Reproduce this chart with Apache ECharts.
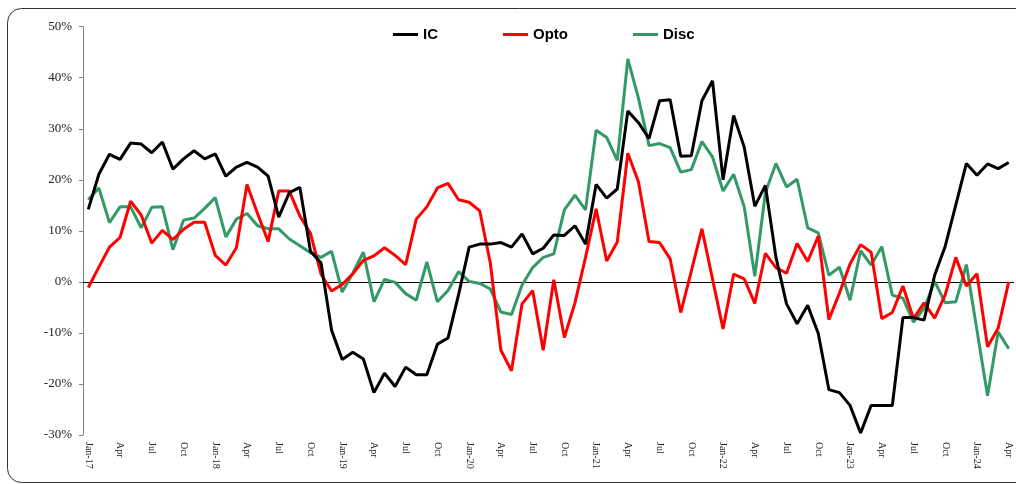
<!DOCTYPE html>
<html>
<head>
<meta charset="utf-8">
<script src="https://cdn.jsdelivr.net/npm/echarts@6/dist/echarts.min.js"></script>
<style>
html,body{margin:0;padding:0;background:#fff;}
#chart{width:1016px;height:484px;}
</style>
</head>
<body>
<div id="chart"></div>
<script>
const categories = [
"Jan-17","Feb-17","Mar-17","Apr-17","May-17","Jun-17","Jul-17","Aug-17","Sep-17","Oct-17","Nov-17","Dec-17",
"Jan-18","Feb-18","Mar-18","Apr-18","May-18","Jun-18","Jul-18","Aug-18","Sep-18","Oct-18","Nov-18","Dec-18",
"Jan-19","Feb-19","Mar-19","Apr-19","May-19","Jun-19","Jul-19","Aug-19","Sep-19","Oct-19","Nov-19","Dec-19",
"Jan-20","Feb-20","Mar-20","Apr-20","May-20","Jun-20","Jul-20","Aug-20","Sep-20","Oct-20","Nov-20","Dec-20",
"Jan-21","Feb-21","Mar-21","Apr-21","May-21","Jun-21","Jul-21","Aug-21","Sep-21","Oct-21","Nov-21","Dec-21",
"Jan-22","Feb-22","Mar-22","Apr-22","May-22","Jun-22","Jul-22","Aug-22","Sep-22","Oct-22","Nov-22","Dec-22",
"Jan-23","Feb-23","Mar-23","Apr-23","May-23","Jun-23","Jul-23","Aug-23","Sep-23","Oct-23","Nov-23","Dec-23",
"Jan-24","Feb-24","Mar-24","Apr-24"
];

const icValues = [
14.2,21.1,25.0,24.0,27.2,27.0,25.3,27.4,22.1,24.1,25.7,24.1,
25.1,20.7,22.5,23.4,22.5,20.7,12.7,17.5,18.5,6.0,3.7,-9.5,
-15.2,-13.8,-15.1,-21.7,-17.9,-20.5,-16.7,-18.2,-18.2,-12.2,-11.0,-2.5,
6.8,7.4,7.4,7.7,6.8,9.4,5.5,6.6,9.2,9.1,11.0,7.4,
19.1,16.4,18.2,33.5,31.2,28.1,35.5,35.7,24.6,24.7,35.5,39.4,
20.0,32.6,26.4,14.8,18.9,4.8,-4.3,-8.2,-4.6,-10.1,-21.1,-21.7,
-24.2,-29.6,-24.2,-24.2,-24.2,-7.0,-7.0,-7.5,1.3,7.0,15.1,23.2,
20.9,23.1,22.2,23.4
];

const optoValues = [
-1.1,2.9,6.8,8.7,15.8,13.1,7.6,10.1,8.3,10.3,11.7,11.7,
5.2,3.3,6.7,19.1,13.4,7.9,17.8,17.8,12.9,9.5,1.5,-1.8,
-0.5,1.6,4.2,5.1,6.7,5.2,3.4,12.3,14.7,18.4,19.3,16.1,
15.6,13.9,3.7,-13.4,-17.4,-4.3,-1.7,-13.4,0.4,-10.9,-4.1,4.8,
14.3,4.1,7.8,25.2,19.6,7.9,7.7,4.5,-6.0,2.1,10.4,0.6,
-9.2,1.5,0.6,-4.2,5.6,2.8,1.7,7.5,4.0,9.0,-7.4,-2.2,
3.5,7.3,5.8,-7.2,-6.0,-0.8,-7.2,-4.1,-7.1,-2.5,4.8,-0.8,
1.6,-12.7,-9.1,0.0
];

const discValues = [
16.1,18.4,11.6,14.7,14.7,10.6,14.6,14.7,6.3,12.1,12.5,14.4,
16.5,8.8,12.3,13.4,11.0,10.4,10.4,8.4,7.1,5.7,4.8,6.0,
-2.0,1.7,5.8,-3.9,0.5,-0.1,-2.3,-3.6,3.9,-3.9,-1.7,2.0,
0.1,-0.3,-1.4,-5.9,-6.4,-0.6,2.8,4.8,5.5,14.1,17.0,14.1,
29.7,28.3,23.8,43.7,36.0,26.7,27.1,26.3,21.5,22.0,27.5,24.5,
17.8,21.1,14.7,1.1,17.5,23.2,18.6,20.1,10.6,9.6,1.3,2.9,
-3.6,6.1,3.3,6.9,-2.6,-3.2,-7.9,-5.2,0.1,-4.1,-3.9,3.4,
-9.5,-22.3,-9.8,-13.1
];

const seriesNames = ["IC","Opto","Disc"];
const yTicks = {min:-30, max:50, step:10};

const chart = echarts.init(document.getElementById('chart'), null, {renderer:'canvas'});

function mkLine(name, data, color, extra) {
  return Object.assign({
    name: name,
    type: 'line',
    data: data,
    symbol: 'none',
    showSymbol: false,
    smooth: false,
    lineStyle: {color: color, width: 3},
    itemStyle: {color: color},
    animation: false,
    z: 3
  }, extra || {});
}

const option = {
  backgroundColor: '#ffffff',
  animation: false,
  graphic: [{
    type: 'rect',
    shape: {x: 7.5, y: 8.5, width: 1030, height: 474, r: 14},
    style: {fill: 'none', stroke: '#333333', lineWidth: 1},
    silent: true,
    z: 0
  }],
  legend: {
    data: seriesNames,
    left: 388,
    top: 22,
    icon: 'rect',
    itemWidth: 25,
    itemHeight: 3,
    itemGap: 65,
    textStyle: {fontFamily: 'Liberation Sans, Arial, sans-serif', fontWeight: 'bold', fontSize: 15, color: '#000'}
  },
  grid: {left: 83, right: 2, top: 26.7, bottom: 49, containLabel: false},
  xAxis: {
    type: 'category',
    data: categories,
    boundaryGap: true,
    axisLine: {show: false},
    axisTick: {show: false},
    splitLine: {show: false},
    axisLabel: {
      interval: 2,
      rotate: -90,
      margin: 7,
      fontFamily: 'Liberation Serif, Times New Roman, serif',
      fontSize: 10,
      color: '#222',
      formatter: function (v) { return v.indexOf('Jan') === 0 ? v : v.slice(0, 3); }
    }
  },
  yAxis: {
    type: 'value',
    min: yTicks.min,
    max: yTicks.max,
    interval: yTicks.step,
    axisLine: {show: true, lineStyle: {color: '#808080', width: 1}},
    axisTick: {show: true, length: 4, lineStyle: {color: '#808080'}},
    splitLine: {show: false},
    axisLabel: {
      margin: 11,
      fontFamily: 'Liberation Serif, Times New Roman, serif',
      fontSize: 13,
      color: '#222',
      formatter: '{value}%'
    }
  },
  series: [
    mkLine(seriesNames[0], icValues, '#000000', {
      z: 5,
      markLine: {
        silent: true,
        symbol: ['none','none'],
        label: {show: false},
        lineStyle: {color: '#000000', width: 1, type: 'solid'},
        data: [{yAxis: 0}],
        z: 1,
        animation: false
      }
    }),
    mkLine(seriesNames[1], optoValues, '#FF0000', {z: 4}),
    mkLine(seriesNames[2], discValues, '#339966', {z: 3})
  ]
};
chart.setOption(option);
</script>
</body>
</html>
